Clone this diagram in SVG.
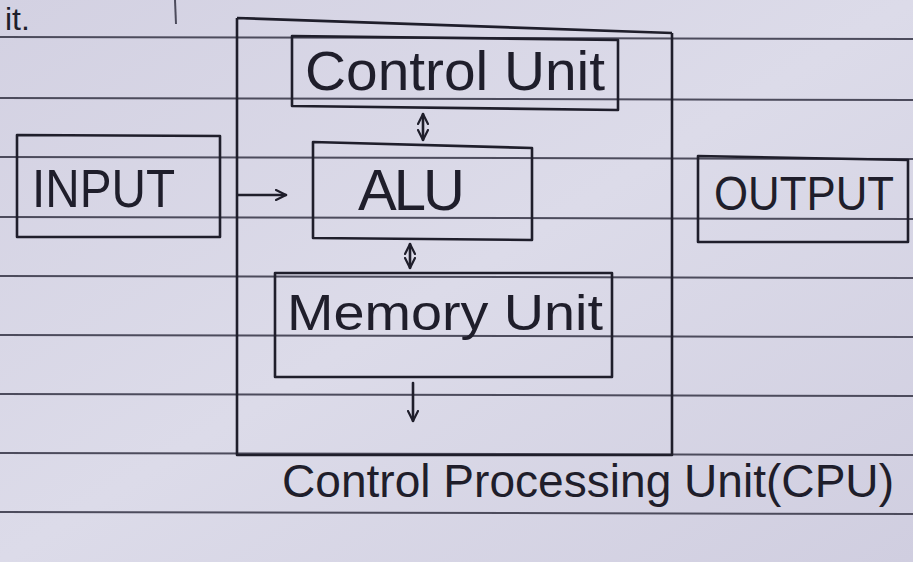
<svg xmlns="http://www.w3.org/2000/svg" width="913" height="562" viewBox="0 0 913 562">
<style>
.rule{stroke:#4c4b5c;stroke-width:2;fill:none}
.box{stroke:#1f1e2b;stroke-width:2.6;fill:none;stroke-linejoin:round}
.ink{fill:#1f1e2b;font-family:"Liberation Sans","DejaVu Sans",sans-serif;font-weight:400}
.conn{stroke:#1f1e2b;stroke-width:2.6;fill:none;stroke-linecap:round}
</style>
<defs>
<linearGradient id="paper" x1="0" y1="0" x2="1" y2="1">
<stop offset="0" stop-color="#d3d1e2"/>
<stop offset="0.5" stop-color="#dcdbe9"/>
<stop offset="1" stop-color="#d0cee0"/>
</linearGradient>
<marker id="head" viewBox="0 0 12 12" refX="11" refY="6" markerWidth="12" markerHeight="12" markerUnits="userSpaceOnUse" orient="auto-start-reverse">
<path d="M1,1 L11,6 L1,11" fill="none" stroke="#1f1e2b" stroke-width="2.2" stroke-linecap="round" stroke-linejoin="round"/>
</marker>
</defs>
<rect width="913" height="562" fill="url(#paper)"/>
<g id="ruling">
<line class="rule" x1="0" y1="37" x2="913" y2="39"/>
<line class="rule" x1="0" y1="98" x2="913" y2="100"/>
<line class="rule" x1="0" y1="157" x2="913" y2="159"/>
<line class="rule" x1="0" y1="217" x2="913" y2="219"/>
<line class="rule" x1="0" y1="276" x2="913" y2="278"/>
<line class="rule" x1="0" y1="335" x2="913" y2="337"/>
<line class="rule" x1="0" y1="394" x2="913" y2="396"/>
<line class="rule" x1="0" y1="453" x2="913" y2="455"/>
<line class="rule" x1="0" y1="512" x2="913" y2="514"/>
<line class="rule" x1="175" y1="0" x2="176" y2="24"/>
</g>
<text class="ink" x="5" y="30" font-size="32">it.</text>
<g id="cpu">
<path class="box" d="M237,18 L672,33 M237,18 L237,455 L672,455 L672,33"/>
<text class="ink" x="282" y="497" font-size="46" textLength="612" lengthAdjust="spacingAndGlyphs">Control Processing Unit(CPU)</text>
</g>
<g id="control-unit">
<path class="box" d="M292,36 L618,40 L618,110 L292,106 Z"/>
<text class="ink" x="305" y="90" font-size="56" textLength="300" lengthAdjust="spacingAndGlyphs">Control Unit</text>
</g>
<g id="alu">
<path class="box" d="M313,142 L532,148 L532,240 L313,238 Z"/>
<text class="ink" x="358" y="210" font-size="58" textLength="107" lengthAdjust="spacing">ALU</text>
</g>
<g id="memory-unit">
<path class="box" d="M275,273 L612,273 L612,377 L275,377 Z"/>
<text class="ink" x="287" y="330" font-size="50" textLength="316" lengthAdjust="spacingAndGlyphs">Memory Unit</text>
</g>
<g id="input">
<path class="box" d="M17,135 L220,136 L220,237 L17,237 Z"/>
<text class="ink" x="32" y="207" font-size="54" textLength="143" lengthAdjust="spacingAndGlyphs">INPUT</text>
</g>
<g id="output">
<path class="box" d="M698,156 L908,160 L908,242 L698,242 Z"/>
<text class="ink" x="714" y="210" font-size="48" textLength="180" lengthAdjust="spacingAndGlyphs">OUTPUT</text>
</g>
<g id="connectors">
<line class="conn" x1="238" y1="195" x2="286" y2="195" marker-end="url(#head)"/>
<line class="conn" x1="423" y1="114" x2="423" y2="140" marker-start="url(#head)" marker-end="url(#head)"/>
<line class="conn" x1="410" y1="244" x2="410" y2="268" marker-start="url(#head)" marker-end="url(#head)"/>
<line class="conn" x1="413" y1="383" x2="413" y2="421" marker-end="url(#head)"/>
</g>
</svg>
